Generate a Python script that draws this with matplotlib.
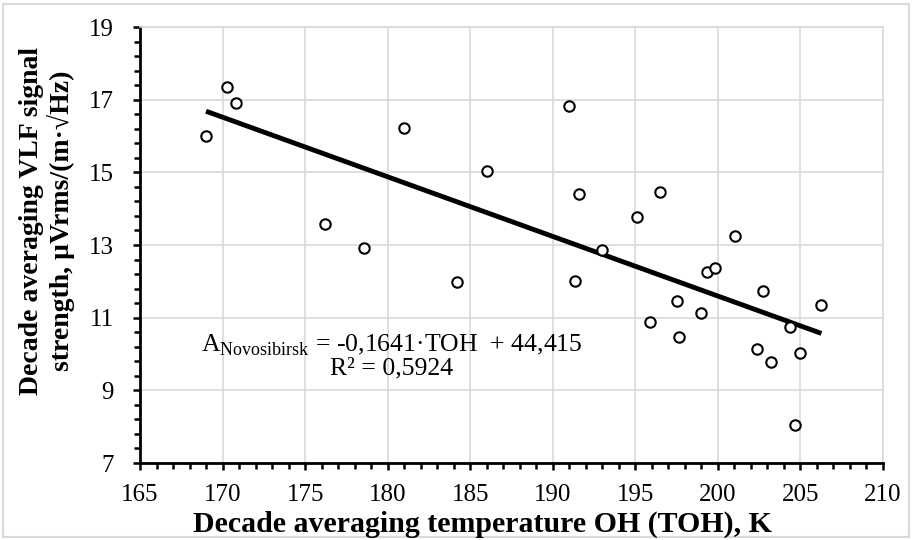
import numpy as np
import matplotlib
matplotlib.use('Agg')
import matplotlib.pyplot as plt
from matplotlib.patches import Rectangle
from matplotlib.ticker import FixedLocator

plt.rcParams['font.family'] = 'Liberation Serif'
plt.rcParams['mathtext.fontset'] = 'custom'
plt.rcParams['mathtext.rm'] = 'Liberation Serif'

# decade averages: OH temperature (K) and VLF signal strength
toh = [169.0, 170.25, 170.8, 176.2, 178.55, 181.0, 184.2, 186.0, 191.0, 191.37,
       191.57, 193.0, 195.12, 195.9, 196.5, 197.5, 197.67, 198.98, 199.32, 199.83,
       201.04, 202.39, 202.75, 203.22, 204.39, 204.7, 204.95, 206.27]
vlf = [16.0, 17.34, 16.9, 13.58, 12.91, 16.22, 11.97, 15.05, 16.83, 12.02,
       14.40, 12.86, 13.78, 10.87, 14.47, 11.45, 10.46, 11.12, 12.25, 12.36,
       13.26, 10.14, 11.74, 9.77, 10.73, 8.05, 10.03, 11.35]

slope = -0.1641
intercept = 44.415
eq_text = r'A$_{\mathregular{Novosibirsk}}$ = -0,1641·TOH  + 44,415'
r2_text = 'R² = 0,5924'

x_major = [165, 170, 175, 180, 185, 190, 195, 200, 205, 210]
y_major = [7, 9, 11, 13, 15, 17, 19]

fig = plt.figure(figsize=(9.14, 5.4), dpi=100)
ax = fig.add_axes([140/914, 1-463/540, 743/914, 436/540])

ax.set_xlim(165, 210)
ax.set_ylim(7, 19)
ax.xaxis.set_major_locator(FixedLocator(x_major))
ax.xaxis.set_minor_locator(FixedLocator(np.arange(165, 210.01, 1)))
ax.yaxis.set_major_locator(FixedLocator(y_major))
ax.yaxis.set_minor_locator(FixedLocator(np.arange(7, 19.01, 0.4)))
ax.grid(True, which='major', color='#d9d9d9', linewidth=1.2)
ax.set_axisbelow(True)

for s in ['top', 'right']:
    ax.spines[s].set_color('#d9d9d9')
    ax.spines[s].set_linewidth(1.2)
for s in ['left', 'bottom']:
    ax.spines[s].set_color('black')
    ax.spines[s].set_linewidth(2)

ax.tick_params(which='both', direction='out', color='black', width=1.8)
ax.tick_params(which='major', length=5, labelsize=18)
ax.tick_params(which='minor', length=4.5)
ax.tick_params(axis='x', which='major', pad=10)
ax.tick_params(axis='y', which='major', pad=14)

ax.plot(toh, vlf, 'o', markersize=7.5, markerfacecolor='white',
        markeredgecolor='black', markeredgewidth=1.5, linestyle='none', zorder=3)

xs = np.array([min(toh), max(toh)])
ax.plot(xs, slope * xs + intercept, color='black', linewidth=3.5, zorder=2,
        solid_capstyle='butt')

ax.text(168.7, 10.25, eq_text, fontsize=18.5, ha='left', va='center')
ax.text(176.5, 9.6, r2_text, fontsize=18.5, ha='left', va='center')

fig.text(482/914, 1-524/540, 'Decade averaging temperature OH (TOH), K', fontsize=21.5,
         fontweight='bold', ha='center', va='center')
fig.text(47/914, 1-221/540, 'Decade averaging VLF signal\nstrength, µVrms/(m·√Hz)',
         fontsize=20, fontweight='bold', rotation=90, ha='center', va='center',
         multialignment='center', linespacing=1.15)

fig.add_artist(Rectangle((3/914, 3/540), 906/914, 533/540, transform=fig.transFigure,
                         fill=False, edgecolor='#d9d9d9', linewidth=1.5))

fig.savefig('out.png', dpi=100)
